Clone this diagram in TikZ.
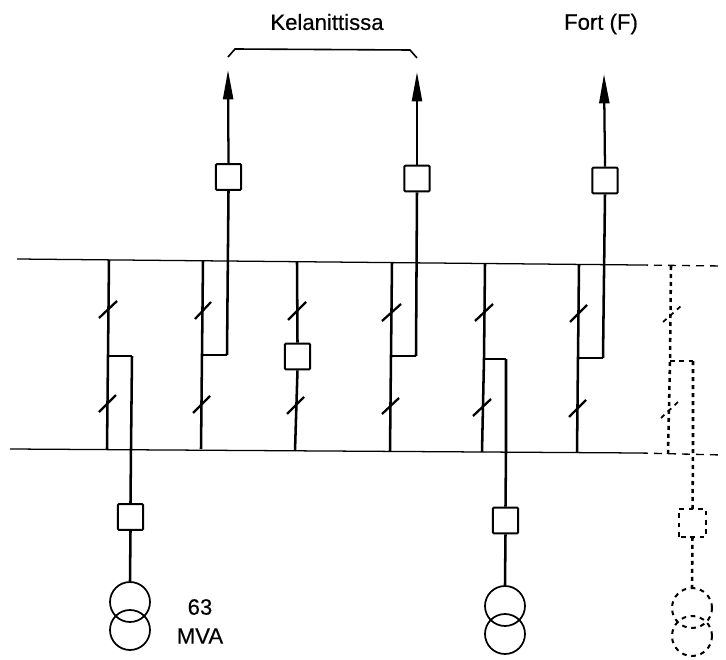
\documentclass[tikz,border=0pt]{standalone}
\usepackage{fontspec}
\setmainfont{Liberation Sans}
\newfontfamily\labfont[FakeBold=0.4]{Liberation Sans}
\usetikzlibrary{arrows.meta,calc}
\tikzset{
  bus/.style={line width=0.95pt},
  bay/.style={line width=1.9pt},
  link/.style={line width=1.2pt},
  sw/.style={line width=1.7pt},
  breaker/.style={draw,line width=1.5pt,fill=white,rectangle,rounded corners=0.6pt,minimum width=18.8pt,minimum height=19.2pt,inner sep=0pt},
  wind/.style={draw,line width=1.3pt,circle,minimum size=30pt,inner sep=0pt},
  feed/.style={line width=1.7pt,-{Triangle[length=22pt,width=7.5pt]}},
  ghostbus/.style={line width=1pt,dash pattern=on 6pt off 4.5pt},
  ghostbay/.style={line width=1.9pt,dash pattern=on 3pt off 3pt},
  ghostthin/.style={line width=1.3pt,dash pattern=on 3.5pt off 3.5pt},
  lab/.style={font=\labfont\fontsize{16.6pt}{19pt}\selectfont,inner sep=0pt,align=center}
}
\begin{document}
\begin{tikzpicture}[x=0.75pt,y=-0.75pt]
\useasboundingbox (0,0) rectangle (726,660);
% bus bars
\coordinate (t0) at (17,259); \coordinate (t1) at (640,265); \coordinate (t2) at (722,266);
\coordinate (b0) at (10,449); \coordinate (b1) at (640,453); \coordinate (b2) at (722,455);
\draw[bus] (t0) -- (t1);
\draw[bus] (b0) -- (b1);
\draw[ghostbus] (t1) -- (t2);
\draw[ghostbus] (b1) -- (b2);
% breakers
\node[breaker] (qa) at (228.5,177) {};
\node[breaker] (qb) at (417,178.5) {};
\node[breaker] (qc) at (605,180.5) {};
\node[breaker] (qm) at (297.5,356.5) {};
\node[breaker] (ql) at (130.5,517) {};
\node[breaker] (qr) at (505.5,520.5) {};
\node[breaker,draw=none,fill=none] (qg) at (692.5,523) {};
\draw[ghostthin,line width=1.8pt] (qg.south west) -- (qg.north west) -- (qg.north east) -- (qg.south east) -- cycle;
% transformers
\node[wind] (ul) at (130,602) {};
\node[wind] (ll) at (130,630) {};
\node[wind] (ur) at (505,606) {};
\node[wind] (lr) at (505,634) {};
\node[wind,dash pattern=on 3.5pt off 3.5pt,line width=1.5pt] (ug) at (692,608) {};
\node[wind,dash pattern=on 3.5pt off 3.5pt,line width=1.5pt] (lg) at (692,636) {};
% bay 1
\coordinate (a1) at (109,260); \coordinate (a2) at (107,449); \coordinate (a3) at (108,356); \coordinate (a4) at (132,356); \coordinate (a5) at (131,449);
\draw[bay] (a1) -- (a3) -- (a2);
\draw[link] (a3) -- (a4);
\draw[bay] (a4) -- (a5) -- (ql.north);
\draw[bay] (ql.south) -- (ul.north);
\coordinate (s1a) at (99,318); \coordinate (s1b) at (117,301); \coordinate (s1c) at (99,412); \coordinate (s1d) at (116,395);
\draw[sw] (s1a) -- (s1b); \draw[sw] (s1c) -- (s1d);
% bay 2
\coordinate (c1) at (203,261); \coordinate (c2) at (201,449); \coordinate (c3) at (202,355); \coordinate (c4) at (227,355); \coordinate (tipa) at (228,70);
\draw[bay] (c1) -- (c3) -- (c2);
\draw[link] (c3) -- (c4);
\draw[bay] (c4) -- (qa.south);
\draw[feed] (qa.north) -- (tipa);
\coordinate (s2a) at (195,319); \coordinate (s2b) at (211,302); \coordinate (s2c) at (193,413); \coordinate (s2d) at (210,396);
\draw[sw] (s2a) -- (s2b); \draw[sw] (s2c) -- (s2d);
% bay 3
\coordinate (d1) at (297,262); \coordinate (d2) at (295,451);
\draw[bay] (d1) -- (qm.north);
\draw[bay] (qm.south) -- (d2);
\coordinate (s3a) at (288,320); \coordinate (s3b) at (306,302); \coordinate (s3c) at (287,414); \coordinate (s3d) at (304,397);
\draw[sw] (s3a) -- (s3b); \draw[sw] (s3c) -- (s3d);
% bay 4
\coordinate (e1) at (392,263); \coordinate (e2) at (390,451); \coordinate (e3) at (391,356); \coordinate (e4) at (416,356); \coordinate (tipb) at (417,72);
\draw[bay] (e1) -- (e3) -- (e2);
\draw[link] (e3) -- (e4);
\draw[bay] (e4) -- (qb.south);
\draw[feed] (qb.north) -- (tipb);
\coordinate (s4a) at (382,321); \coordinate (s4b) at (401,304); \coordinate (s4c) at (382,414); \coordinate (s4d) at (399,398);
\draw[sw] (s4a) -- (s4b); \draw[sw] (s4c) -- (s4d);
% bay 5
\coordinate (f1) at (485,264); \coordinate (f2) at (482,452); \coordinate (f3) at (484,359); \coordinate (f4) at (506,359); \coordinate (f5) at (506,452);
\draw[bay] (f1) -- (f3) -- (f2);
\draw[link] (f3) -- (f4);
\draw[bay] (f4) -- (f5) -- (qr.north);
\draw[bay] (qr.south) -- (ur.north);
\coordinate (s5a) at (475,321); \coordinate (s5b) at (493,304); \coordinate (s5c) at (473,416); \coordinate (s5d) at (491,399);
\draw[sw] (s5a) -- (s5b); \draw[sw] (s5c) -- (s5d);
% bay 6
\coordinate (g1) at (579,265); \coordinate (g2) at (577,453); \coordinate (g3) at (578,358); \coordinate (g4) at (603,358); \coordinate (tipc) at (604,74);
\draw[bay] (g1) -- (g3) -- (g2);
\draw[link] (g3) -- (g4);
\draw[bay] (g4) -- (qc.south);
\draw[feed] (qc.north) -- (tipc);
\coordinate (s6a) at (570,322); \coordinate (s6b) at (587,305); \coordinate (s6c) at (569,417); \coordinate (s6d) at (586,400);
\draw[sw] (s6a) -- (s6b); \draw[sw] (s6c) -- (s6d);
% dashed bay
\coordinate (h1) at (671,266); \coordinate (h2) at (668,454); \coordinate (h3) at (670,361); \coordinate (h4) at (693,361); \coordinate (h5) at (693,454);
\draw[ghostbay] (h1) -- (h3) -- (h2);
\draw[ghostthin] (h3) -- (h4);
\draw[ghostbay] (h4) -- (h5) -- (qg.north);
\draw[ghostbay] (qg.south) -- (ug.north);
\coordinate (s7a) at (663,322); \coordinate (s7b) at (681,306); \coordinate (s7c) at (661,418); \coordinate (s7d) at (679,401);
\draw[ghostthin] (s7a) -- (s7b); \draw[ghostthin] (s7c) -- (s7d);
% bracket
\coordinate (k1) at (228,57); \coordinate (k2) at (235,49); \coordinate (k3) at (410,50); \coordinate (k4) at (417,58);
\draw[link] (k1) -- (k2) -- (k3) -- (k4);
% labels
\node[lab] (kel) at (327,22) {Kelanittissa};
\node[lab] (fort) at (601,24) {Fort (F)};
\node[lab] (n63) at (200,607) {63};
\node[lab] (mva) at (200,636) {MVA};
\end{tikzpicture}
\end{document}
